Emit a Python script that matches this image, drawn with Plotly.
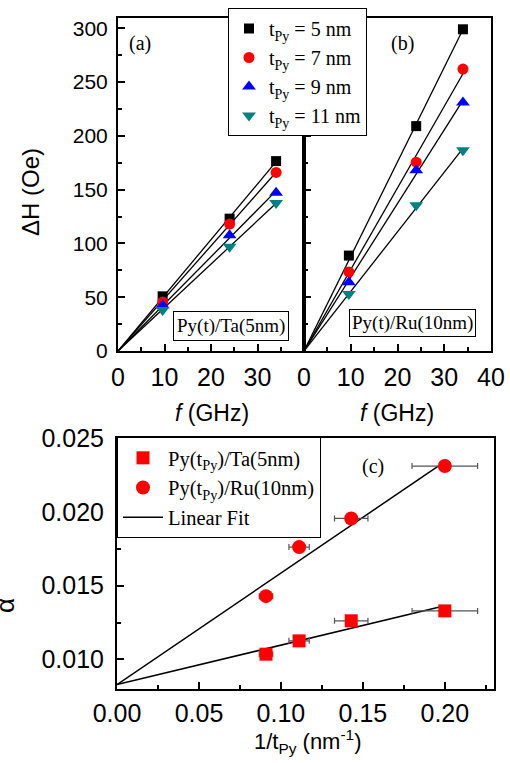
import numpy as np
import plotly.graph_objects as go

# ---------------- data ----------------
freq = [9.6, 24.0, 34.0]                      # GHz
series_names = ["t<sub>Py</sub> = 5 nm", "t<sub>Py</sub> = 7 nm",
                "t<sub>Py</sub> = 9 nm", "t<sub>Py</sub> = 11 nm"]
dH_ta_5 = [50.8, 123.0, 176.5]
dH_ta_7 = [45.5, 118.0, 166.0]
dH_ta_9 = [42.5, 107.5, 147.0]
dH_ta_11 = [38.0, 97.0, 137.5]
dH_ru_5 = [88.7, 209.0, 299.0]
dH_ru_7 = [73.5, 175.5, 262.0]
dH_ru_9 = [64.0, 168.0, 231.0]
dH_ru_11 = [53.0, 135.5, 186.5]

inv_t = [0.0909, 0.1111, 0.1429, 0.2000]      # 1/t_Py (nm^-1)
inv_t_err = [0.0041, 0.0062, 0.0102, 0.0200]
alpha_ta = [0.01036, 0.01126, 0.01262, 0.01329]
alpha_ru = [0.01429, 0.01761, 0.01955, 0.02310]
fit_alpha0 = 0.0083
fit_slope_ta = 0.0267
fit_slope_ru = 0.0755
fit_x_end = 0.2

# ---------------- style ----------------
W, H = 510, 763
SANS = "Liberation Sans, Arial, sans-serif"
SERIF = "Liberation Serif, Times New Roman, serif"
colors = ["#000000", "#FF0000", "#0000FF", "#008080"]
symbols = ["square", "circle", "triangle-up", "triangle-down"]
sizes = [10, 11, 12, 12]

def px_x(p):
    return p / W

def px_y(p):
    return 1 - p / H

fig = go.Figure()

ta_sets = [dH_ta_5, dH_ta_7, dH_ta_9, dH_ta_11]
ru_sets = [dH_ru_5, dH_ru_7, dH_ru_9, dH_ru_11]
fx = np.array(freq)

for panel, (sets, xa, ya) in enumerate([(ta_sets, "x", "y"), (ru_sets, "x2", "y2")]):
    for i, ys in enumerate(sets):
        yv = np.array(ys)
        slope = float(np.sum(fx * yv) / np.sum(fx * fx))
        xl = np.array([0.0, fx[-1]])
        fig.add_trace(go.Scatter(x=xl, y=slope * xl, mode="lines",
                                 line=dict(color="black", width=1.3),
                                 xaxis=xa, yaxis=ya, showlegend=False,
                                 hoverinfo="skip"))
    for i, ys in enumerate(sets):
        fig.add_trace(go.Scatter(x=freq, y=ys, mode="markers",
                                 marker=dict(symbol=symbols[i], color=colors[i],
                                             size=sizes[i], line=dict(width=0)),
                                 name=series_names[i], xaxis=xa, yaxis=ya,
                                 showlegend=(panel == 0), legend="legend"))

# panel (c)
xfit = np.array([0.0, fit_x_end])
fig.add_trace(go.Scatter(x=xfit, y=fit_alpha0 + fit_slope_ta * xfit, mode="lines",
                         line=dict(color="black", width=1.5), xaxis="x3", yaxis="y3",
                         showlegend=False, legend="legend2"))
fig.add_trace(go.Scatter(x=xfit, y=fit_alpha0 + fit_slope_ru * xfit, mode="lines",
                         line=dict(color="black", width=1.5), xaxis="x3", yaxis="y3",
                         showlegend=False, legend="legend2"))
fig.add_trace(go.Scatter(x=inv_t, y=alpha_ta, mode="markers",
                         marker=dict(symbol="square", color="#FF0000", size=13),
                         error_x=dict(type="data", array=inv_t_err, color="#555555",
                                      thickness=1.2, width=3),
                         name="Py(t<sub>Py</sub>)/Ta(5nm)", xaxis="x3", yaxis="y3",
                         legend="legend2"))
fig.add_trace(go.Scatter(x=inv_t, y=alpha_ru, mode="markers",
                         marker=dict(symbol="circle", color="#FF0000", size=14),
                         error_x=dict(type="data", array=inv_t_err, color="#555555",
                                      thickness=1.2, width=3),
                         name="Py(t<sub>Py</sub>)/Ru(10nm)", xaxis="x3", yaxis="y3",
                         legend="legend2"))
fig.add_trace(go.Scatter(x=[None], y=[None], mode="lines",
                         line=dict(color="black", width=1.5), name="Linear Fit",
                         xaxis="x3", yaxis="y3", legend="legend2"))

axis_common = dict(showline=True, linecolor="black", linewidth=2, mirror=True,
                   ticks="inside", ticklen=7, tickwidth=2, tickcolor="black",
                   showgrid=False, zeroline=False, automargin=False)

def minor(dt):
    return dict(ticks="inside", ticklen=4, tickwidth=1.5, tickcolor="black", dtick=dt,
                showgrid=False)

fig.update_layout(
    width=W, height=H, margin=dict(l=0, r=0, t=0, b=0, autoexpand=False),
    paper_bgcolor="white", plot_bgcolor="white",
    xaxis=dict(domain=[px_x(118), px_x(304)], range=[0, 40], tickmode="array",
               tickvals=[0, 10, 20, 30], minor=dict(ticks="inside", ticklen=4, tickwidth=1.5,
                                                    tickcolor="black", tickvals=[5, 15, 25, 35]),
               tickfont=dict(family=SANS, size=25, color="black"), ticklabelstandoff=3,
               anchor="y", **axis_common),
    xaxis2=dict(domain=[px_x(304), px_x(491)], range=[0, 40], dtick=10, tick0=0,
                minor=minor(5), tickfont=dict(family=SANS, size=25, color="black"),
                ticklabelstandoff=3, anchor="y2", **axis_common),
    yaxis=dict(domain=[px_y(351), px_y(18)], range=[0, 309.5], dtick=50, tick0=0,
               minor=minor(25), tickfont=dict(family=SANS, size=21, color="black"),
               ticklabelstandoff=4, anchor="x", **axis_common),
    yaxis2=dict(domain=[px_y(351), px_y(18)], range=[0, 309.5], dtick=50, tick0=0,
                minor=minor(25), showticklabels=False, anchor="x2",
                **axis_common),
    xaxis3=dict(domain=[px_x(117), px_x(494)], range=[0, 0.23], dtick=0.05, tick0=0,
                tickformat=".2f", minor=minor(0.025),
                tickfont=dict(family=SANS, size=25, color="black"), ticklabelstandoff=1,
                anchor="y3", **axis_common),
    yaxis3=dict(domain=[px_y(689), px_y(438)], range=[0.008, 0.025], dtick=0.005, tick0=0,
                tickformat=".3f", minor=minor(0.0025),
                tickfont=dict(family=SANS, size=25, color="black"), ticklabelstandoff=6,
                anchor="x3", **axis_common),
    legend=dict(x=px_x(228), y=px_y(8), xanchor="left", yanchor="top",
                bgcolor="white", bordercolor="black", borderwidth=1,
                font=dict(family=SERIF, size=20, color="black"), tracegroupgap=0,
                itemwidth=30),
    legend2=dict(x=px_x(117), y=px_y(437), xanchor="left", yanchor="top",
                 bgcolor="white", bordercolor="black", borderwidth=1,
                 font=dict(family=SERIF, size=20.5, color="black"), tracegroupgap=0,
                 itemwidth=40),
    showlegend=True,
)

ann = [
    dict(text="(a)", x=px_x(140), y=px_y(43), font=dict(family=SERIF, size=20)),
    dict(text="(b)", x=px_x(402), y=px_y(43), font=dict(family=SERIF, size=20)),
    dict(text="(c)", x=px_x(373), y=px_y(466), font=dict(family=SERIF, size=20)),
    dict(text="Py(t)/Ta(5nm)", x=px_x(230.5), y=px_y(326), font=dict(family=SERIF, size=19),
         bordercolor="black", borderwidth=1, borderpad=3, bgcolor="white"),
    dict(text="Py(t)/Ru(10nm)", x=px_x(412.5), y=px_y(323.5), font=dict(family=SERIF, size=19),
         bordercolor="black", borderwidth=1, borderpad=2, bgcolor="white"),
    dict(text="\u0394H (Oe)", x=px_x(31), y=px_y(192), textangle=-90,
         font=dict(family=SANS, size=24)),
    dict(text="<i>f</i> (GHz)", x=px_x(212), y=px_y(413), font=dict(family=SANS, size=23)),
    dict(text="<i>f</i> (GHz)", x=px_x(397), y=px_y(413), font=dict(family=SANS, size=23)),
    dict(text="\u03b1", x=px_x(5), y=px_y(606), textangle=-90, font=dict(family=SANS, size=26)),
    dict(text="1/t<sub>Py</sub> (nm<sup>-1</sup>)", x=px_x(307), y=px_y(741),
         font=dict(family=SANS, size=22)),
]
for a in ann:
    a.setdefault("xref", "paper")
    a.setdefault("yref", "paper")
    a.setdefault("showarrow", False)
    a["xanchor"] = "center"
    a["yanchor"] = "middle"
    a["font"]["color"] = "black"
fig.update_layout(annotations=ann)

fig.write_html("out.html", config={"displayModeBar": False},
               post_script="document.body.style.margin='0';document.body.style.overflow='hidden';")
